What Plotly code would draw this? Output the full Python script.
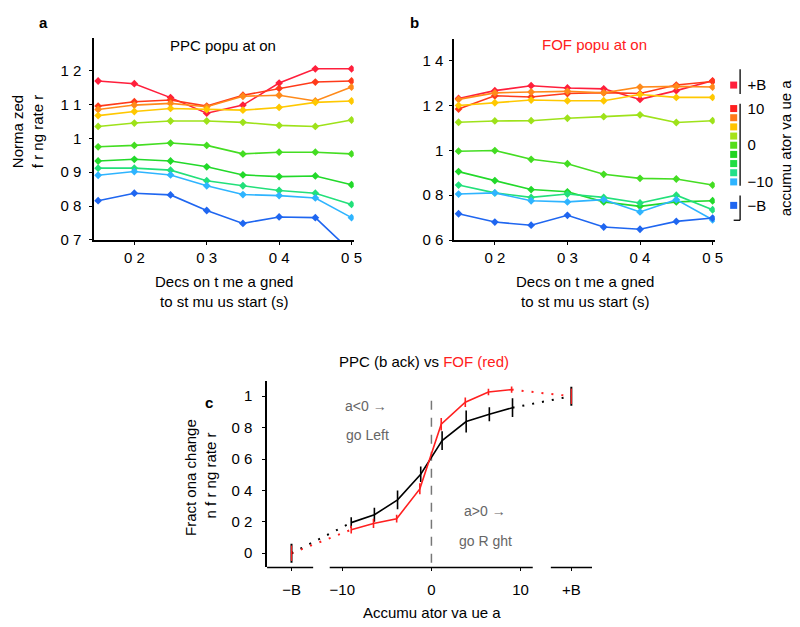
import plotly.graph_objects as go

W, H = 800, 627
def px(x): return x / W
def py(y): return 1 - y / H

FONT = "Liberation Sans, Arial, sans-serif"

# ---------------- data ----------------
time_s = [0.15, 0.20, 0.25, 0.30, 0.35, 0.40, 0.45, 0.50]
group_names = ["+B", "a~9", "a~6.5", "a~4", "a~1.3", "a~-1.3", "a~-4", "a~-6.5", "a~-9", "-B"]
group_colors = ["#ff1f3c", "#ff3a1a", "#ff8a1a", "#ffc800", "#9ee21a",
                "#44dd22", "#22d92a", "#22e07a", "#2eb4ff", "#1f66f0"]

ppc_plusB  = [1.169, 1.161, 1.120, 1.074, 1.098, 1.163, 1.205, 1.205]
ppc_bin1   = [1.095, 1.108, 1.113, 1.095, 1.127, 1.147, 1.166, 1.169]
ppc_bin2   = [1.085, 1.098, 1.103, 1.093, 1.124, 1.127, 1.110, 1.151]
ppc_bin3   = [1.067, 1.079, 1.088, 1.085, 1.083, 1.091, 1.106, 1.110]
ppc_bin4   = [1.035, 1.045, 1.051, 1.051, 1.047, 1.038, 1.035, 1.054]
ppc_bin5   = [0.975, 0.979, 0.986, 0.979, 0.954, 0.959, 0.959, 0.954]
ppc_bin6   = [0.933, 0.938, 0.933, 0.916, 0.892, 0.887, 0.889, 0.863]
ppc_bin7   = [0.912, 0.912, 0.906, 0.875, 0.860, 0.846, 0.838, 0.805]
ppc_bin8   = [0.891, 0.902, 0.892, 0.860, 0.834, 0.831, 0.824, 0.766]
ppc_minusB = [0.816, 0.838, 0.833, 0.787, 0.749, 0.768, 0.766, 0.665]

fof_plusB  = [1.231, 1.266, 1.288, 1.278, 1.274, 1.227, 1.266, 1.310]
fof_bin1   = [1.184, 1.243, 1.238, 1.253, 1.257, 1.253, 1.291, 1.307]
fof_bin2   = [1.227, 1.256, 1.260, 1.263, 1.256, 1.282, 1.285, 1.282]
fof_bin3   = [1.200, 1.212, 1.224, 1.221, 1.221, 1.249, 1.236, 1.236]
fof_bin4   = [1.125, 1.131, 1.132, 1.143, 1.150, 1.158, 1.124, 1.132]
fof_bin5   = [0.996, 0.999, 0.960, 0.940, 0.893, 0.875, 0.872, 0.845]
fof_bin6   = [0.905, 0.865, 0.825, 0.815, 0.770, 0.750, 0.770, 0.775]
fof_bin7   = [0.845, 0.810, 0.790, 0.805, 0.790, 0.765, 0.800, 0.735]
fof_bin8   = [0.805, 0.810, 0.775, 0.770, 0.780, 0.725, 0.780, 0.690]
fof_minusB = [0.717, 0.680, 0.666, 0.710, 0.658, 0.648, 0.683, 0.698]

# panel c
B_POS = 15.7                      # axis position used for the +/-B bound
ppc_acc   = [-9.0, -6.4, -3.8, -1.2, 1.2, 3.9, 6.5, 9.1]
ppc_frac  = [0.195, 0.245, 0.340, 0.503, 0.717, 0.839, 0.885, 0.927]
ppc_err   = [0.035, 0.045, 0.060, 0.050, 0.060, 0.070, 0.045, 0.060]
fof_acc   = [-9.0, -6.5, -3.9, -1.3, 1.1, 3.8, 6.4, 9.0]
fof_frac  = [0.150, 0.190, 0.220, 0.410, 0.822, 0.962, 1.027, 1.042]
fof_err   = [0.025, 0.030, 0.025, 0.035, 0.040, 0.030, 0.020, 0.020]
bound_frac = [0.0, 1.0]            # -B, +B
ppc_bound_err = [0.06, 0.06]
fof_bound_err = [0.05, 0.05]

# colour-bar of panel b
cbar_vals = [10, 7.5, 5, 2.5, 0, -2.5, -5, -7.5, -10]
cbar_colors = ["#ff2020", "#ff7a1a", "#ffc400", "#a6e21a", "#55dd1a",
               "#22d422", "#22dd44", "#22e08a", "#2eb4ff"]
cbar_bound_vals = [16.4, -16.4]
cbar_bound_colors = ["#ff1f3c", "#1f66f0"]
cbar_tickvals = [16.4, 10, 0, -10, -16.4]
cbar_ticktext = ["+B", "10", "0", "\u221210", "\u2212B"]

ppc_series = [ppc_plusB, ppc_bin1, ppc_bin2, ppc_bin3, ppc_bin4,
              ppc_bin5, ppc_bin6, ppc_bin7, ppc_bin8, ppc_minusB]
fof_series = [fof_plusB, fof_bin1, fof_bin2, fof_bin3, fof_bin4,
              fof_bin5, fof_bin6, fof_bin7, fof_bin8, fof_minusB]

fig = go.Figure()

# ---------------- panels a and b ----------------
for ax, series in (("", ppc_series), ("2", fof_series)):
    for name, col, vals in zip(group_names, group_colors, series):
        fig.add_trace(go.Scatter(
            x=time_s, y=vals, mode="lines+markers", name=name,
            line=dict(color=col, width=1.6),
            marker=dict(color=col, size=6, symbol="diamond"),
            xaxis="x" + ax, yaxis="y" + ax, showlegend=False))

# ---------------- panel c ----------------
RED = "#ff2020"
DOT = "2px,8px"
fig.add_trace(go.Scatter(x=[-B_POS, ppc_acc[0]], y=[bound_frac[0], ppc_frac[0]],
                         mode="lines", line=dict(color="black", width=2, dash=DOT),
                         xaxis="x3", yaxis="y3", showlegend=False))
fig.add_trace(go.Scatter(x=[ppc_acc[-1], B_POS], y=[ppc_frac[-1], bound_frac[1]],
                         mode="lines", line=dict(color="black", width=2, dash=DOT),
                         xaxis="x3", yaxis="y3", showlegend=False))
fig.add_trace(go.Scatter(x=[-B_POS, fof_acc[0]], y=[bound_frac[0], fof_frac[0]],
                         mode="lines", line=dict(color=RED, width=2, dash=DOT),
                         xaxis="x3", yaxis="y3", showlegend=False))
fig.add_trace(go.Scatter(x=[fof_acc[-1], B_POS], y=[fof_frac[-1], bound_frac[1]],
                         mode="lines", line=dict(color=RED, width=2, dash=DOT),
                         xaxis="x3", yaxis="y3", showlegend=False))
fig.add_trace(go.Scatter(x=ppc_acc, y=ppc_frac, mode="lines",
                         line=dict(color="black", width=1.6),
                         error_y=dict(type="data", array=ppc_err, color="black",
                                      thickness=1.6, width=0),
                         xaxis="x3", yaxis="y3", showlegend=False))
fig.add_trace(go.Scatter(x=fof_acc, y=fof_frac, mode="lines",
                         line=dict(color=RED, width=1.6),
                         error_y=dict(type="data", array=fof_err, color=RED,
                                      thickness=1.6, width=0),
                         xaxis="x3", yaxis="y3", showlegend=False))
fig.add_trace(go.Scatter(x=[-B_POS, B_POS], y=bound_frac, mode="markers",
                         marker=dict(size=1, color="black"),
                         error_y=dict(type="data", array=ppc_bound_err, color="black",
                                      thickness=2, width=0),
                         xaxis="x3", yaxis="y3", showlegend=False))
fig.add_trace(go.Scatter(x=[-B_POS, B_POS], y=bound_frac, mode="markers",
                         marker=dict(size=1, color=RED),
                         error_y=dict(type="data", array=fof_bound_err, color=RED,
                                      thickness=1.2, width=0),
                         xaxis="x3", yaxis="y3", showlegend=False))

# ---------------- colour bar (panel b) ----------------
fig.add_trace(go.Scatter(x=[0.5] * len(cbar_vals), y=cbar_vals, mode="markers",
                         marker=dict(symbol="square", size=7, color=cbar_colors),
                         xaxis="x4", yaxis="y4", showlegend=False, cliponaxis=False))
fig.add_trace(go.Scatter(x=[0.5] * len(cbar_bound_vals), y=cbar_bound_vals, mode="markers",
                         marker=dict(symbol="square", size=7, color=cbar_bound_colors),
                         xaxis="x4", yaxis="y4", showlegend=False, cliponaxis=False))

axis_common = dict(showline=True, linecolor="black", linewidth=1.5, ticks="outside",
                   ticklen=3, tickwidth=1.2, tickcolor="black", showgrid=False,
                   zeroline=False, tickfont=dict(family=FONT, size=15, color="black"),
                   mirror=False)

t_ticks = [0.2, 0.3, 0.4, 0.5]
t_text = ["0 2", "0 3", "0 4", "0 5"]

fig.update_layout(
    width=W, height=H, margin=dict(l=0, r=0, t=0, b=0),
    plot_bgcolor="white", paper_bgcolor="white",
    font=dict(family=FONT, size=15, color="black"),
    xaxis=dict(domain=[px(87), px(349.2)], range=[0.1445, 0.503], anchor="y",
               tickvals=t_ticks, ticktext=t_text, **axis_common),
    yaxis=dict(domain=[py(235), py(30)], range=[0.7, 1.297], anchor="x",
               tickvals=[0.7, 0.8, 0.9, 1.0, 1.1, 1.2], ticklabelstandoff=5,
               ticktext=["0 7", "0 8", "0 9", "1", "1 1", "1 2"], **axis_common),
    xaxis2=dict(domain=[px(450.7), px(713.9)], range=[0.144, 0.503], anchor="y2",
                tickvals=t_ticks, ticktext=t_text, **axis_common),
    yaxis2=dict(domain=[py(235), py(31.7)], range=[0.6, 1.495], anchor="x2",
                tickvals=[0.6, 0.8, 1.0, 1.2, 1.4], ticklabelstandoff=3,
                ticktext=["0 6", "0 8", "1", "1 2", "1 4"], **axis_common),
    xaxis3=dict(domain=[px(261.7), px(590)], range=[-18.44, 18.03], anchor="y3",
                tickvals=[-B_POS, -10, 0, 10, B_POS], ticklabelstandoff=6,
                ticktext=["\u2212B", "\u221210", "0", "10", "+B"],
                **{**axis_common, "showline": False}),
    yaxis3=dict(domain=[py(566.7), py(378.3)], range=[-0.0906, 1.094], anchor="x3",
                tickvals=[0, 0.2, 0.4, 0.6, 0.8, 1.0], ticklabelstandoff=7,
                ticktext=["0", "0 2", "0 4", "0 6", "0 8", "1"], **axis_common),
    xaxis4=dict(domain=[px(726), px(740)], range=[0, 1], anchor="y4", visible=False),
    yaxis4=dict(domain=[py(213.3), py(64.7)], range=[-20, 20], anchor="x4", side="right",
                showline=False, showgrid=False, zeroline=False, ticks="",
                tickvals=cbar_tickvals, ticktext=cbar_ticktext,
                tickfont=dict(family=FONT, size=15, color="black"),
                ticklabelstandoff=6),
)

shapes = []
for x0, x1 in ((-18.44, -13.27), (-11.41, 11.37), (13.4, 18.03)):
    shapes.append(dict(type="line", xref="x3", yref="y3 domain", x0=x0, x1=x1, y0=0, y1=0,
                       line=dict(color="black", width=1.5)))
shapes.append(dict(type="line", xref="x3", yref="y3", x0=0, x1=0, y0=-0.06, y1=1.02,
                   line=dict(color="#777777", width=1.5, dash="9px,8px"), layer="below"))
for y0, y1 in ((62, 87), (97, 180), (190, 215)):
    shapes.append(dict(type="line", xref="paper", yref="paper", x0=px(739.5), x1=px(739.5),
                       y0=py(y0), y1=py(y1), line=dict(color="black", width=1.3)))
shapes.append(dict(type="line", xref="paper", yref="paper", x0=px(733), x1=px(739.5),
                   y0=py(215), y1=py(215), line=dict(color="black", width=1.3)))
fig.update_layout(shapes=shapes)

def ann(text, x, y, size=15, color="black", angle=0, xanchor="center", bold=False):
    if bold:
        text = "<b>" + text + "</b>"
    return dict(text=text, x=px(x), y=py(y), xref="paper", yref="paper", showarrow=False,
                xanchor=xanchor, yanchor="middle", textangle=angle,
                font=dict(family=FONT, size=size, color=color))

annotations = [
    ann("a", 36, 15, size=15, bold=True),
    ann("b", 411, 15, size=15, bold=True),
    ann("c", 203, 400, size=15, bold=True),
    ann("PPC popu at on", 217, 38, size=15),
    ann("FOF popu at on", 592, 37, size=15, color=RED),
    ann("Norma zed<br>f r ng rate r", 20, 125, size=15, angle=-90),
    ann("Decs on t me a gned<br>to st mu us start (s)", 218, 287, size=15),
    ann("Decs on t me a gned<br>to st mu us start (s)", 583, 287, size=15),
    ann("accumu ator va ue a", 785, 142, size=15, angle=-90),
    ann("PPC (b ack) vs <span style='color:#ff2020'>FOF (red)</span>", 420, 358, size=15),
    ann("Fract ona change<br> n f r ng rate r", 195, 476, size=15, angle=-90),
    ann("Accumu ator va ue a", 428, 612, size=15),
    ann("a&lt;0 \u2192", 362, 403, size=14, color="#666666"),
    ann("go Left", 363, 433, size=14, color="#666666"),
    ann("a&gt;0 \u2192", 482, 510, size=14, color="#666666"),
    ann("go R ght", 482, 540, size=14, color="#666666"),
]
fig.update_layout(annotations=annotations)

fig.write_html("out.html")
